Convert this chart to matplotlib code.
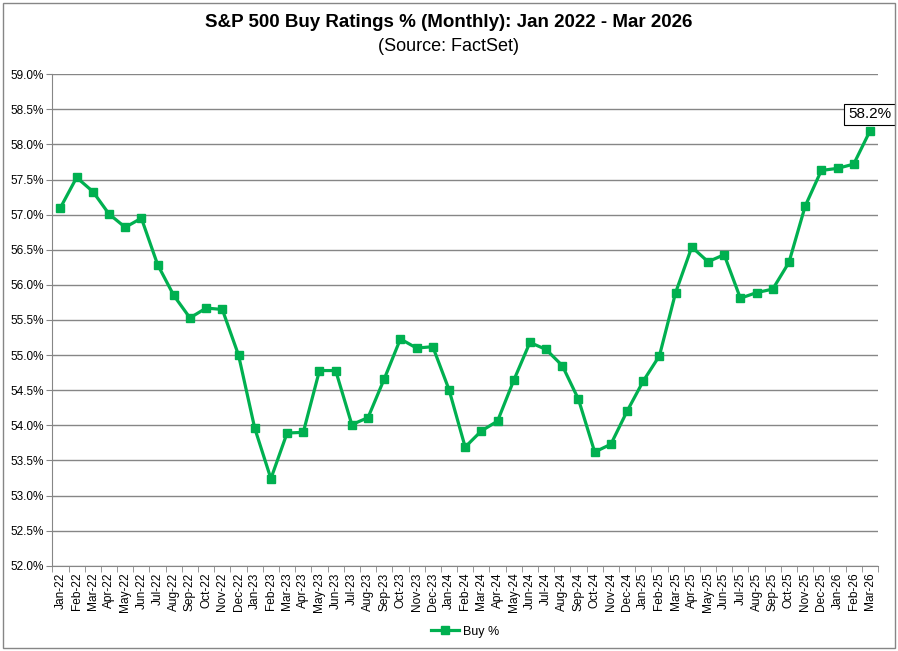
import numpy as np
import matplotlib
matplotlib.use("Agg")
import matplotlib.pyplot as plt
from matplotlib.patches import Rectangle

plt.rcParams["font.family"] = ["Liberation Sans", "DejaVu Sans"]

months = ["Jan", "Feb", "Mar", "Apr", "May", "Jun",
          "Jul", "Aug", "Sep", "Oct", "Nov", "Dec"]
labels = [f"{m}-{y}" for y in ("22", "23", "24", "25") for m in months] + ["Jan-26", "Feb-26", "Mar-26"]

buy_pct = [
    57.10, 57.53, 57.33, 57.01, 56.82, 56.95, 56.29, 55.85, 55.53, 55.67, 55.65, 55.00,   # 2022
    53.96, 53.24, 53.89, 53.90, 54.78, 54.78, 54.01, 54.11, 54.66, 55.23, 55.10, 55.12,   # 2023
    54.51, 53.69, 53.92, 54.06, 54.64, 55.18, 55.08, 54.85, 54.37, 53.62, 53.73, 54.20,   # 2024
    54.63, 54.99, 55.89, 56.54, 56.33, 56.43, 55.81, 55.89, 55.94, 56.32, 57.12, 57.63,   # 2025
    57.66, 57.72, 58.19,                                                                  # 2026
]
last_label = "58.2%"

GREEN = "#00B050"
GRID = "#868686"

fig = plt.figure(figsize=(8.98, 6.51), dpi=100)
ax = fig.add_axes([0.0583, 0.131, 0.9194, 0.7549])

x = np.arange(len(labels))
ax.plot(x, buy_pct, "-s", color=GREEN, lw=2.3, ms=5.2, label="Buy %", zorder=3)

ax.set_xlim(-0.5, len(labels) - 0.5)
ax.set_ylim(52.0, 59.0)
yt = np.arange(52.0, 59.01, 0.5)
ax.set_yticks(yt)
ax.set_yticklabels([f"{v:.1f}%" for v in yt], fontsize=8.5)
ax.yaxis.grid(True, color=GRID, lw=1.0)
ax.set_axisbelow(True)

ax.set_xticks(x)
ax.set_xticklabels(labels, rotation=90, fontsize=8.6)
ax.set_xticks(np.arange(-0.5, len(labels), 1.0), minor=True)
ax.tick_params(axis="x", which="major", length=0, pad=5)
ax.tick_params(axis="x", which="minor", length=4, color=GRID)
ax.tick_params(axis="y", length=4, color=GRID, pad=2)

for s in ("top", "right"):
    ax.spines[s].set_visible(False)
for s in ("left", "bottom"):
    ax.spines[s].set_color(GRID)

ax.annotate(last_label, (x[-1], buy_pct[-1]), xytext=(0, 7), textcoords="offset points",
            ha="center", va="bottom", fontsize=11,
            bbox=dict(boxstyle="square,pad=0.25", fc="white", ec="black", lw=0.8))

fig.text(0.5, 0.966, "S&P 500 Buy Ratings % (Monthly): Jan 2022 - Mar 2026",
         ha="center", va="center", fontsize=13.5, fontweight="bold")
fig.text(0.5, 0.929, "(Source: FactSet)", ha="center", va="center", fontsize=13)

leg = ax.legend(loc="center", bbox_to_anchor=(0.5, -0.134), frameon=False,
                fontsize=9, handlelength=2.2, handletextpad=0.3)

fig.patches.append(Rectangle((3 / 898, 3 / 651), 892 / 898, 645 / 651, transform=fig.transFigure,
                             fill=False, ec=GRID, lw=1.0))

fig.savefig("out.png", dpi=100)
